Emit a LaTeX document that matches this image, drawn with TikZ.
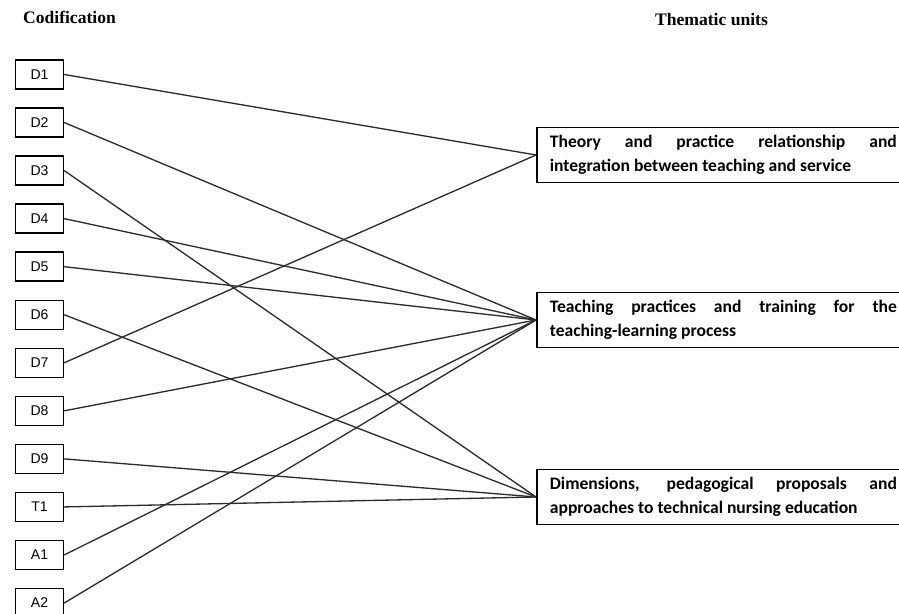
\documentclass[tikz,border=0pt]{standalone}
\usepackage{fontspec}
\setmainfont{Liberation Serif}
\newfontfamily\codefont{Liberation Sans}
\newfontfamily\unitfont{Carlito}
\usepackage{tikz}
\usetikzlibrary{positioning}
\definecolor{CodLine}{HTML}{2B2B2B}
\tolerance=9999
\hyphenpenalty=10000
\exhyphenpenalty=10000

\begin{document}
\begin{tikzpicture}[
  code/.style={draw=black, line width=0.8pt, minimum width=0.96cm, minimum height=0.58cm,
    inner sep=0pt, font=\codefont\fontsize{8}{9}\selectfont},
  unit/.style={draw=black, line width=1pt, anchor=west, text width=6.94cm, align=justify,
    inner xsep=0.26cm, inner ysep=0.16cm, font=\unitfont\bfseries\fontsize{10}{13.4}\selectfont},
  link/.style={draw=CodLine, line width=0.75pt},
  head/.style={font=\bfseries\fontsize{10}{12}\selectfont}
]
\useasboundingbox (0,0) rectangle (17.98,12.28);
\clip (0,0) rectangle (17.98,12.28);

% Column headings
\node[head] (codhead) at (1.39,11.94) {Codification};
\node[head] (unithead) at (14.23,11.88) {Thematic units};

% Codes on the left
\foreach \lab [count=\i] in {D1,D2,D3,D4,D5,D6,D7,D8,D9,T1,A1,A2}
  \node[code] (\lab) at (0.79,{10.79-0.961*(\i-1)}) {\lab};

% Thematic units on the right
\node[unit] (theory) at (10.72,9.18)
  {Theory and practice relationship and\linebreak integration between teaching and service};
\node[unit] (teaching) at (10.72,5.88)
  {Teaching practices and training for the teaching-learning process};
\node[unit] (dimensions) at (10.72,2.34)
  {Dimensions, pedagogical proposals and approaches to technical nursing education};

% Links from codes to units
\foreach \src/\dst in {D1/theory, D7/theory,
    D2/teaching, D4/teaching, D5/teaching, D8/teaching, A1/teaching, A2/teaching,
    D3/dimensions, D6/dimensions, D9/dimensions, T1/dimensions}
  \draw[link] (\src.east) -- (\dst.west);
\end{tikzpicture}
\end{document}
